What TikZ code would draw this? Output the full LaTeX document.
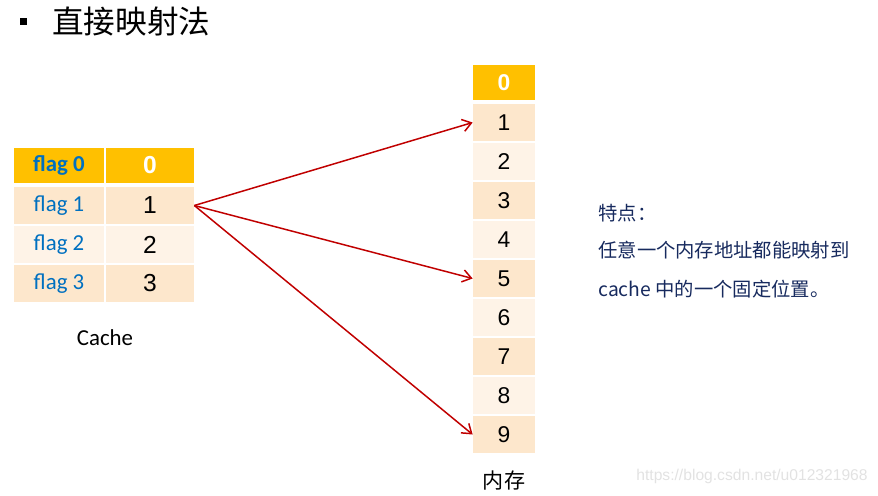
\documentclass[tikz,border=0pt]{standalone}
\usepackage{fontspec}
\usepackage{xcolor}
\usepackage{tikz}
\usetikzlibrary{arrows.meta}
\setmainfont{Carlito}
\newfontfamily\cjk{Noto Sans CJK SC}
\newfontfamily\digitfont{Liberation Sans}
\definecolor{headcol}{RGB}{255,192,0}
\definecolor{bandacol}{RGB}{253,231,204}
\definecolor{bandbcol}{RGB}{254,243,231}
\definecolor{flagcol}{RGB}{0,112,192}
\definecolor{mapcol}{RGB}{192,0,0}
\definecolor{notecol}{RGB}{23,42,94}
\definecolor{markcol}{RGB}{226,226,226}

\begin{document}
\begin{tikzpicture}[
    x=0.02cm, y=-0.02cm,
    >={Straight Barb[length=5pt, width=7pt]},
    %% ── Base cell style ──
    cell/.style={
        rectangle, inner sep=0pt, align=center, minimum height=0.74cm
    },
    %% ── Column styles ──
    flagcell/.style={cell, minimum width=1.8cm, text=flagcol,
        font=\fontsize{13}{15}\selectfont},
    valcell/.style={cell, minimum width=1.76cm,
        font=\digitfont\fontsize{14}{16}\selectfont},
    memcell/.style={cell, minimum width=1.24cm,
        font=\digitfont\fontsize{13}{15}\selectfont},
    %% ── Row fills ──
    headrow/.style={fill=headcol, minimum height=0.7cm},
    banda/.style={fill=bandacol},
    bandb/.style={fill=bandbcol},
    %% ── Arrow / label styles ──
    map/.style={->, line width=0.85pt, color=mapcol},
    note/.style={anchor=west, inner sep=0pt, text=notecol,
        font=\cjk\fontsize{11}{13}\selectfont},
    caption/.style={inner sep=0pt},
]
\useasboundingbox (0,0) rectangle (878,495);

% ── Title ──
\fill (20,18) rectangle (27,25);
\node[caption, anchor=west, font=\cjk\fontsize{18}{20}\selectfont] (title) at (52,22) {直接映射法};

% ── Cache · flag column ──
\node[flagcell, headrow, font=\bfseries\fontsize{13}{15}\selectfont] (f0) at (59,165.5) {flag 0};
\node[flagcell, banda] (f1) at (59,205.5) {flag 1};
\node[flagcell, bandb] (f2) at (59,244.5) {flag 2};
\node[flagcell, banda] (f3) at (59,283.5) {flag 3};

% ── Cache · value column ──
\node[valcell, headrow, text=white, font=\digitfont\bfseries\fontsize{14}{16}\selectfont] (v0) at (150,165.5) {0};
\node[valcell, banda] (v1) at (150,205.5) {1};
\node[valcell, bandb] (v2) at (150,244.5) {2};
\node[valcell, banda] (v3) at (150,283.5) {3};

\node[caption, font=\fontsize{13}{15}\selectfont] (cachelbl) at (105,338) {Cache};

% ── Memory column ──
\node[memcell, headrow, text=white, font=\digitfont\bfseries\fontsize{13}{15}\selectfont] (m0) at (504,82.5) {0};
\node[memcell, banda] (m1) at (504,122.5) {1};
\node[memcell, bandb] (m2) at (504,161.5) {2};
\node[memcell, banda] (m3) at (504,200.5) {3};
\node[memcell, bandb] (m4) at (504,239.5) {4};
\node[memcell, banda] (m5) at (504,278.5) {5};
\node[memcell, bandb] (m6) at (504,317.5) {6};
\node[memcell, banda] (m7) at (504,356.5) {7};
\node[memcell, bandb] (m8) at (504,395.5) {8};
\node[memcell, banda] (m9) at (504,434.5) {9};

\node[caption, font=\cjk\fontsize{12}{14}\selectfont] (memlbl) at (504,480) {内存};

% ── Mapping arrows ──
\draw[map] (v1.east) -- (m1.west);
\draw[map] (v1.east) -- (m5.west);
\draw[map] (v1.east) -- (m9.west);

% ── Notes ──
\node[note] (n1) at (598,213) {特点：};
\node[note] (n2) at (598,250) {任意一个内存地址都能映射到};
\node[note] (n3) at (598,289) {cache 中的一个固定位置。};

% ── Watermark ──
\node[caption, anchor=east, text=markcol, font=\digitfont\fontsize{8.9}{10}\selectfont] (wm) at (868,476) {https://blog.csdn.net/u012321968};

\end{tikzpicture}
\end{document}
